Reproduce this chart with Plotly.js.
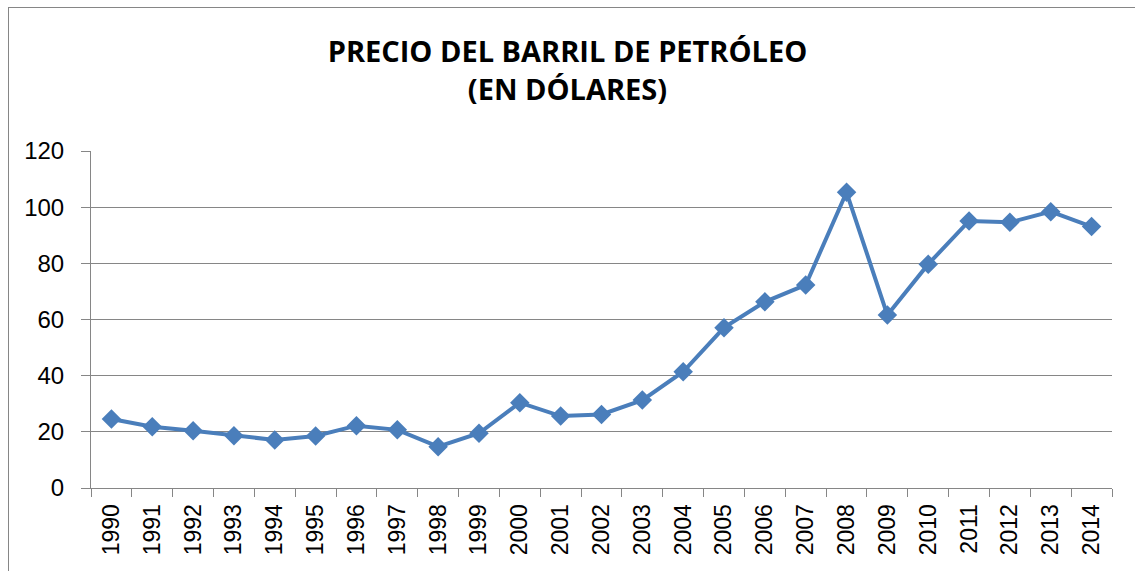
<!DOCTYPE html>
<html>
<head>
<meta charset="utf-8">
<script src="https://cdn.plot.ly/plotly-3.0.1.min.js"></script>
<style>
html,body{margin:0;padding:0;background:#fff;}
#chart{width:1135px;height:571px;position:absolute;left:0;top:0;}
#frame{position:absolute;left:8px;top:7px;width:1200px;height:700px;border-left:1px solid #868686;border-top:1px solid #868686;pointer-events:none;}
</style>
</head>
<body>
<div id="chart"></div>
<div id="frame"></div>
<script>
const years = ["1990","1991","1992","1993","1994","1995","1996","1997","1998","1999","2000","2001","2002","2003","2004","2005","2006","2007","2008","2009","2010","2011","2012","2013","2014"];
const prices = [24.6,21.8,20.4,18.6,17.1,18.5,22.2,20.7,14.7,19.5,30.4,25.6,26.2,31.3,41.4,57.1,66.3,72.3,105.3,61.6,79.7,95.1,94.6,98.4,93.1];
const yTicks = [0,20,40,60,80,100,120];
const titleText = "PRECIO DEL BARRIL DE PETRÓLEO<br>(EN DÓLARES)";

const trace = {
  x: years, y: prices, type: 'scatter', mode: 'lines+markers',
  line: {color: '#4a7ebb', width: 4},
  marker: {symbol: 'diamond', size: 15, color: '#4a7ebb'},
  hoverinfo: 'x+y'
};

const layout = {
  width: 1135, height: 571,
  margin: {l: 91, r: 23, t: 151, b: 83, pad: 0},
  paper_bgcolor: '#ffffff', plot_bgcolor: '#ffffff',
  showlegend: false,
  title: {
    text: titleText,
    font: {family: "'Open Sans', sans-serif", size: 29, color: '#000', weight: 'bold'},
    x: 0.5, xanchor: 'center', xref: 'container',
    y: 1 - 62/571, yanchor: 'top', yref: 'container'
  },
  xaxis: {
    type: 'category',
    range: [-0.5, years.length - 0.5],
    autorange: false,
    tickangle: -90,
    ticks: 'outside', ticklen: 8, tickcolor: '#868686', tickwidth: 1,
    tickson: 'boundaries',
    showline: true, linecolor: '#868686', linewidth: 1,
    showgrid: false, zeroline: false,
    tickfont: {family: "'Liberation Sans', Arial, sans-serif", size: 23, color: '#000'},
    ticklabelstandoff: 6
  },
  yaxis: {
    range: [0, 120],
    tickvals: yTicks, ticktext: yTicks.map(String),
    ticks: 'outside', ticklen: 9, tickcolor: '#868686', tickwidth: 1,
    showline: true, linecolor: '#868686', linewidth: 1,
    showgrid: true, gridcolor: '#868686', gridwidth: 1,
    zeroline: false,
    tickfont: {family: "'Liberation Sans', Arial, sans-serif", size: 24, color: '#000'},
    ticklabelstandoff: 12
  }
};

Plotly.newPlot('chart', [trace], layout, {displayModeBar: false, staticPlot: true});
</script>
</body>
</html>
